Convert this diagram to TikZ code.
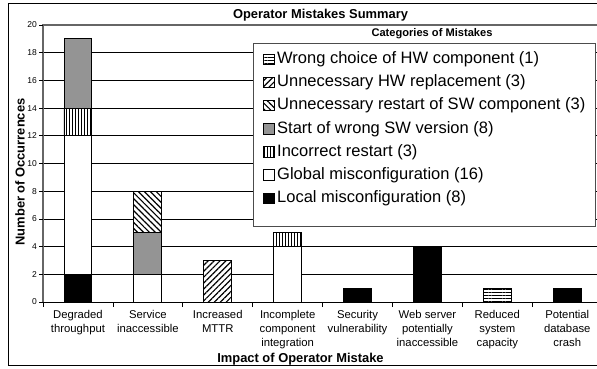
\documentclass[tikz,border=0pt]{standalone}
\usepackage{fontspec}
\setmainfont{Liberation Sans}
\usetikzlibrary{patterns.meta}
\tikzset{
  bar/.style={draw=black, line width=0.9pt, preaction={fill=white}},
  hwchoice/.style={bar, pattern={Lines[angle=0,distance=2.8pt,line width=0.6pt]}},
  hwrepl/.style={bar, pattern={Lines[angle=45,distance=4.2pt,line width=1.2pt]}},
  swrestart/.style={bar, pattern={Lines[angle=-45,distance=4.2pt,line width=1.2pt]}},
  wrongsw/.style={bar, fill=black!42},
  badrestart/.style={bar, pattern={Lines[angle=90,distance=3pt,line width=0.8pt]}},
  globalcfg/.style={bar, fill=white},
  localcfg/.style={bar, fill=black},
  catlabel/.style={align=center, anchor=north, inner sep=0pt, font=\fontsize{11.3}{14}\selectfont},
  ticklabel/.style={anchor=east, inner sep=0pt, font=\fontsize{8.5}{10}\selectfont},
  legtext/.style={anchor=west, inner sep=0pt, font=\fontsize{16.5}{20}\selectfont},
  swatch/.style={line width=0.8pt, minimum size=10.5pt, inner sep=0pt, anchor=center},
  heading/.style={inner sep=0pt, font=\bfseries\fontsize{12.9}{15}\selectfont},
}
\begin{document}
\begin{tikzpicture}[x=1pt, y=-1pt]
  \clip (0,0) rectangle (597,368);
  \fill[white] (0,0) rectangle (597,368);
  \draw[line width=1pt] (8,3) rectangle (620,365);
  \node[heading] (title) at (320.5,15) {Operator Mistakes Summary};

  % plot area, data coordinates
  \begin{scope}[shift={(43,302)}, x=69.9pt, y=13.85pt]
    \foreach \v in {2,4,...,18}
      \draw[line width=0.8pt] (0,\v) -- (8.2,\v);
    \draw[black!60, line width=1.2pt] (0,0) -- (0,20) -- (8.2,20);
    \foreach \v in {0,2,...,20} {
      \draw[line width=0.8pt] (0,\v) -- ++(-4pt,0);
      \node[ticklabel] (tick\v) at ([xshift=-6pt]0,\v) {\v};
    }
    \draw[line width=0.9pt] (0,0) -- (8.2,0);
    \foreach \i in {0,...,8}
      \draw[line width=0.8pt] (\i,0) -- ++(0,-4.5pt);

    % Degraded throughput
    \draw[localcfg] (0.3,0) rectangle (0.7,2);
    \draw[globalcfg] (0.3,2) rectangle (0.7,12);
    \draw[badrestart] (0.3,12) rectangle (0.7,14);
    \draw[wrongsw] (0.3,14) rectangle (0.7,19);
    % Service inaccessible
    \draw[globalcfg] (1.3,0) rectangle (1.7,2);
    \draw[wrongsw] (1.3,2) rectangle (1.7,5);
    \draw[swrestart] (1.3,5) rectangle (1.7,8);
    % Increased MTTR
    \draw[hwrepl] (2.3,0) rectangle (2.7,3);
    % Incomplete component integration
    \draw[globalcfg] (3.3,0) rectangle (3.7,4);
    \draw[badrestart] (3.3,4) rectangle (3.7,5);
    % the rest
    \draw[localcfg] (4.3,0) rectangle (4.7,1);
    \draw[localcfg] (5.3,0) rectangle (5.7,4);
    \draw[hwchoice] (6.3,0) rectangle (6.7,1);
    \draw[localcfg] (7.3,0) rectangle (7.7,1);

    \node[catlabel] (cat1) at ([yshift=-8.5pt]0.5,0) {Degraded\\throughput};
    \node[catlabel] (cat2) at ([yshift=-8.5pt]1.5,0) {Service\\inaccessible};
    \node[catlabel] (cat3) at ([yshift=-8.5pt]2.5,0) {Increased\\MTTR};
    \node[catlabel] (cat4) at ([yshift=-8.5pt]3.5,0) {Incomplete\\component\\integration};
    \node[catlabel] (cat5) at ([yshift=-8.5pt]4.5,0) {Security\\vulnerability};
    \node[catlabel] (cat6) at ([yshift=-8.5pt]5.5,0) {Web server\\potentially\\inaccessible};
    \node[catlabel] (cat7) at ([yshift=-8.5pt]6.5,0) {Reduced\\system\\capacity};
    \node[catlabel] (cat8) at ([yshift=-8.5pt]7.5,0) {Potential\\database\\crash};
  \end{scope}

  \node[heading, rotate=90] (ylabel) at (20,172) {Number of Occurrences};
  \node[heading] (xlabel) at (300.5,359) {Impact of Operator Mistake};

  % legend
  \node[inner sep=0pt, font=\bfseries\fontsize{11.1}{13}\selectfont] (legtitle) at (432,34) {Categories of Mistakes};
  \draw[black!70, line width=0.9pt, fill=white] (253,43) rectangle (595,226);
  \node[swatch, hwchoice] (sw1) at (269,59.3) {};
  \node[legtext] (leg1) at (277,59.3) {Wrong choice of HW component (1)};
  \node[swatch, hwrepl] (sw2) at (269,82.5) {};
  \node[legtext] (leg2) at (277,82.5) {Unnecessary HW replacement (3)};
  \node[swatch, swrestart] (sw3) at (269,105.6) {};
  \node[legtext] (leg3) at (277,105.6) {Unnecessary restart of SW component (3)};
  \node[swatch, wrongsw] (sw4) at (269,128.8) {};
  \node[legtext] (leg4) at (277,128.8) {Start of wrong SW version (8)};
  \node[swatch, badrestart] (sw5) at (269,151.9) {};
  \node[legtext] (leg5) at (277,151.9) {Incorrect restart (3)};
  \node[swatch, globalcfg] (sw6) at (269,175.1) {};
  \node[legtext] (leg6) at (277,175.1) {Global misconfiguration (16)};
  \node[swatch, localcfg] (sw7) at (269,198.3) {};
  \node[legtext] (leg7) at (277,198.3) {Local misconfiguration (8)};
\end{tikzpicture}
\end{document}
